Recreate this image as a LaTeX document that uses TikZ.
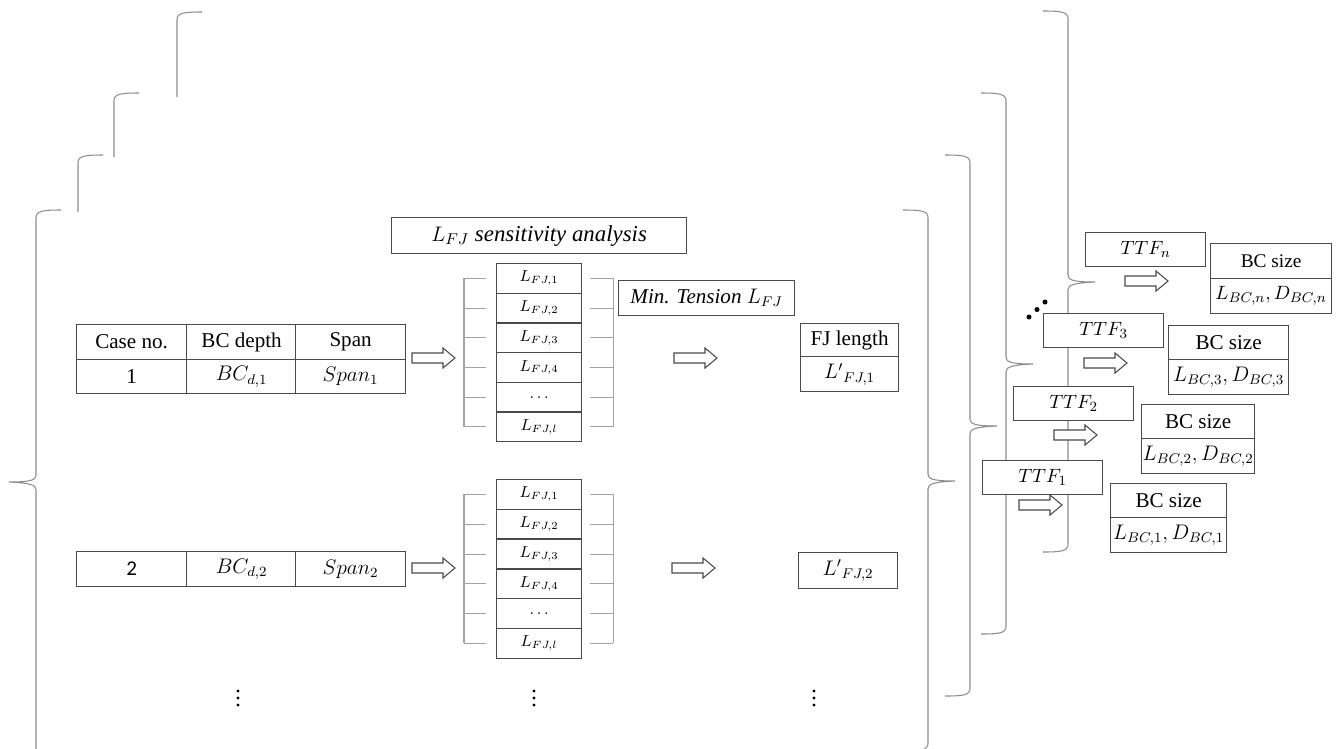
\documentclass[tikz,border=0pt]{standalone}
\usepackage{fontspec}
\setmainfont{Liberation Serif}
\newfontfamily\calfont{Carlito}
\usetikzlibrary{calc}
\definecolor{boxline}{HTML}{4A4A4A}
\definecolor{brcline}{HTML}{8C8C8C}
\definecolor{brkline}{HTML}{A3A3A3}
\tikzset{
  cell/.style={draw=boxline, fill=white, line width=0.7pt, anchor=north west, inner sep=0pt,
               minimum width=2.2cm, minimum height=0.7cm, font=\fontsize{12}{14}\selectfont},
  lcell/.style={cell, minimum width=1.7cm, minimum height=0.593cm, font=\fontsize{9}{10}\selectfont},
  ttfbox/.style={cell, minimum width=2.4cm, minimum height=0.68cm, font=\fontsize{11}{13}\selectfont},
  bccell/.style={cell, minimum width=2.35cm, minimum height=0.69cm},
  fatline/.style={draw=boxline, fill=white, line width=0.6pt, line join=miter},
  brc/.style={draw=brcline, line width=0.6pt},
  brk/.style={draw=brkline, line width=0.6pt},
}
% closing brace of one case sheet: x of its line, y of its top
\newcommand{\rbrc}[2]{%
  \draw[brc] ({#1-25},#2) .. controls ({#1-6},#2) and (#1,{#2+1}) .. (#1,{#2+8})
    -- (#1,{#2+264}) .. controls (#1,{#2+269}) and ({#1+5},{#2+271}) .. ({#1+27},{#2+271})
    .. controls ({#1+5},{#2+272}) and (#1,{#2+274}) .. (#1,{#2+279})
    -- (#1,{#2+533}) .. controls (#1,{#2+540}) and ({#1-6},{#2+541}) .. ({#1-25},{#2+541});}
% visible top of an opening brace behind the front sheet
\newcommand{\ltop}[3]{%
  \draw[brc] ({#1+25},#2) .. controls ({#1+6},#2) and (#1,{#2+1}) .. (#1,{#2+8}) -- (#1,#3);}
% block arrow from its tail
\newcommand{\fatarrow}[1]{%
  \draw[fatline] (#1) ++(0,-5) -- ++(31,0) -- ++(0,-5) -- ++(12,10) -- ++(-12,10) -- ++(0,-5) -- ++(-31,0) -- cycle;}
% three dots in a column
\newcommand{\vdotsat}[1]{%
  \foreach \d in {-7,0,7} {\fill (#1) ++(0,\d) circle[radius=0.032cm];}}

\begin{document}
\begin{tikzpicture}[x=0.02cm, y=-0.02cm]
\useasboundingbox (0,0) rectangle (1337,748);

% ---------------- the stacked sheets ----------------
\draw[brc] (61,210) .. controls (42,210) and (36,211) .. (36,218) -- (36,475)
  .. controls (36,480) and (31,482) .. (9,482) .. controls (31,483) and (36,485) .. (36,490) -- (36,752);
\ltop{78}{155}{212}
\ltop{114}{93}{157}
\ltop{177}{12}{97}
\rbrc{928}{210}
\rbrc{970}{155}
\rbrc{1006}{93}
\rbrc{1068}{11}

% ---------------- case table ----------------
\node[cell] (hno) at (76,324) {Case no.};
\node[cell] (hbc) at (186,324) {BC depth};
\node[cell] (hsp) at (295,324) {Span};
\node[cell, minimum height=0.68cm] (r1no) at (76,359) {1};
\node[cell, minimum height=0.68cm] (r1bc) at (186,359) {$BC_{d,1}$};
\node[cell, minimum height=0.68cm] (r1sp) at (295,359) {$Span_1$};
\node[cell] (r2no) at (76,551) {\calfont 2};
\node[cell] (r2bc) at (186,551) {$BC_{d,2}$};
\node[cell] (r2sp) at (295,551) {$Span_2$};

% ---------------- sensitivity of the FJ length ----------------
\node[cell, minimum width=5.9cm, minimum height=0.72cm, font=\fontsize{13}{15}\selectfont] (sens) at (391,217) {$L_{FJ}$ \textit{sensitivity analysis}};
\foreach \i/\t in {1/{L_{FJ,1}}, 2/{L_{FJ,2}}, 3/{L_{FJ,3}}, 4/{L_{FJ,4}}, 5/{\dots}, 6/{L_{FJ,l}}} {
  \node[lcell] (la\i) at (496,{263+(\i-1)*29.7}) {$\t$};
  \node[lcell] (lb\i) at (496,{479+(\i-1)*29.8}) {$\t$};
}
\foreach \c in {la,lb} {
  \foreach \i in {1,...,6} {
    \draw[brk] ([xshift=-0.2cm]\c\i.west) -- ([xshift=-0.64cm]\c\i.west);
    \draw[brk] ([xshift=0.16cm]\c\i.east) -- ([xshift=0.62cm]\c\i.east);
  }
  \draw[brk] ([xshift=-0.64cm]\c1.west) -- ([xshift=-0.64cm]\c6.west);
  \draw[brk] ([xshift=0.62cm]\c1.east) -- ([xshift=0.62cm]\c6.east);
}
\node[cell, minimum width=3.52cm] (mint) at (618,280) {\textit{Min. Tension} $L_{FJ}$};

% ---------------- FJ length ----------------
\node[cell, minimum width=1.96cm, minimum height=0.66cm] (fjh) at (800,323) {FJ length};
\node[cell, minimum width=1.96cm] (fj1) at (800,356) {${L'}_{FJ,1}$};
\node[cell, minimum width=1.98cm, minimum height=0.72cm] (fj2) at (798,552) {${L'}_{FJ,2}$};

\coordinate (ar1a) at (412,358);
\coordinate (ar1b) at (674,358);
\coordinate (ar2a) at (412,568);
\coordinate (ar2b) at (672,568);
\foreach \a in {ar1a,ar1b,ar2a,ar2b} {\fatarrow{\a}}

\coordinate (dt1) at (238,698);
\coordinate (dt2) at (534,698);
\coordinate (dt3) at (814,698);
\foreach \a in {dt1,dt2,dt3} {\vdotsat{\a}}

% ---------------- time to failure and BC size ----------------
\node[ttfbox] (ttfn) at (1085,232) {$TTF_n$};
\node[ttfbox] (ttf3) at (1043,313) {$TTF_3$};
\node[ttfbox] (ttf2) at (1013,386) {$TTF_2$};
\node[ttfbox] (ttf1) at (982,460) {$TTF_1$};
\coordinate (arn) at (1125,281);
\coordinate (ar3) at (1084,363);
\coordinate (ar2) at (1054,435);
\coordinate (ar1) at (1019,505);
\foreach \a in {arn,ar3,ar2,ar1} {\fatarrow{\a}}

\node[bccell, minimum width=2.42cm, font=\fontsize{11}{13}\selectfont] (bchn) at (1210,243) {BC size};
\node[bccell, minimum width=2.42cm, font=\fontsize{11}{13}\selectfont] (bcvn) at (1210,278) {$L_{BC,n}, D_{BC,n}$};
\node[bccell, minimum width=2.4cm] (bch3) at (1168,325) {BC size};
\node[bccell, minimum width=2.4cm] (bcv3) at (1168,359) {$L_{BC,3}, D_{BC,3}$};
\node[bccell, minimum width=2.26cm] (bch2) at (1141,404) {BC size};
\node[bccell, minimum width=2.26cm] (bcv2) at (1141,438) {$L_{BC,2}, D_{BC,2}$};
\node[bccell, minimum width=2.32cm] (bch1) at (1110,483) {BC size};
\node[bccell, minimum width=2.32cm] (bcv1) at (1110,517) {$L_{BC,1}, D_{BC,1}$};

\foreach \p in {(1029,317),(1037,309.5),(1045,302)} {
  \fill \p circle[radius=0.05cm];
}
\end{tikzpicture}
\end{document}
